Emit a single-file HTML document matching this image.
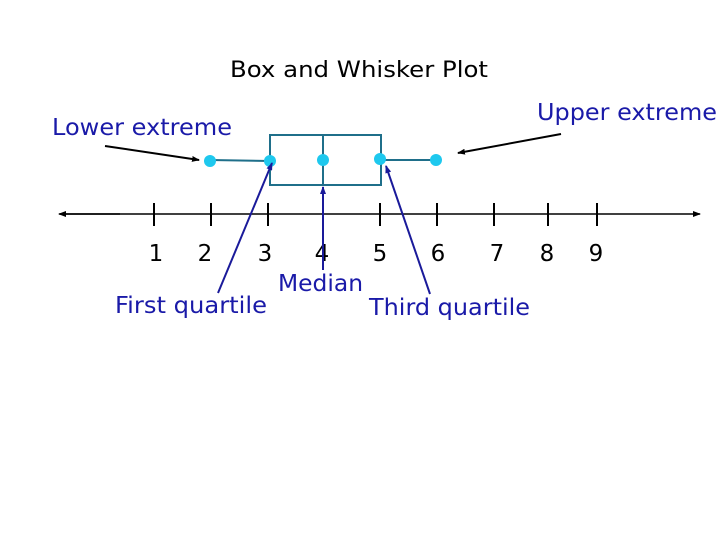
<!DOCTYPE html>
<html><head><meta charset="utf-8"><style>
html,body{margin:0;padding:0;background:#fff;}
svg{display:block;font-family:"DejaVu Sans","Liberation Sans",sans-serif;}
</style></head><body>
<svg width="728" height="546" viewBox="0 0 728 546" xmlns="http://www.w3.org/2000/svg">
<defs>
<marker id="ak" markerWidth="8" markerHeight="6" refX="7" refY="3" orient="auto" markerUnits="userSpaceOnUse"><path d="M0,0 L8,3 L0,6 z" fill="#000"/></marker>
<marker id="ab" markerWidth="8" markerHeight="6" refX="7" refY="3" orient="auto" markerUnits="userSpaceOnUse"><path d="M0,0 L8,3 L0,6 z" fill="#1a1a9a"/></marker>
</defs>
<text x="359" y="77" font-size="22" text-anchor="middle" textLength="258" lengthAdjust="spacingAndGlyphs" fill="#000">Box and Whisker Plot</text>
<line x1="60" y1="214" x2="700" y2="214" stroke="#000" stroke-width="1.5" marker-end="url(#ak)"/>
<line x1="120" y1="214" x2="59" y2="214" stroke="#000" stroke-width="1.5" marker-end="url(#ak)"/>
<g stroke="#000" stroke-width="2">
<line x1="154" y1="203" x2="154" y2="226"/><line x1="211" y1="203" x2="211" y2="226"/>
<line x1="268" y1="203" x2="268" y2="226"/><line x1="323" y1="203" x2="323" y2="226"/>
<line x1="380" y1="203" x2="380" y2="226"/><line x1="437" y1="203" x2="437" y2="226"/>
<line x1="494" y1="203" x2="494" y2="226"/><line x1="548" y1="203" x2="548" y2="226"/>
<line x1="597" y1="203" x2="597" y2="226"/>
</g>
<g font-size="23" text-anchor="middle" fill="#000">
<text x="156" y="261">1</text><text x="205" y="261">2</text><text x="265" y="261">3</text>
<text x="322" y="261">4</text><text x="380" y="261">5</text><text x="438" y="261">6</text>
<text x="497" y="261">7</text><text x="547" y="261">8</text><text x="596" y="261">9</text>
</g>
<rect x="270" y="135" width="111" height="50" fill="none" stroke="#1f6f8a" stroke-width="2"/>
<line x1="323" y1="135" x2="323" y2="185" stroke="#1f6f8a" stroke-width="2"/>
<line x1="210" y1="160" x2="270" y2="161" stroke="#1f6f8a" stroke-width="2"/>
<line x1="381" y1="160" x2="436" y2="160" stroke="#1f6f8a" stroke-width="2"/>
<g fill="#1ec8ee">
<circle cx="210" cy="161" r="6"/><circle cx="270" cy="161" r="6"/><circle cx="323" cy="160" r="6"/>
<circle cx="380" cy="159" r="6"/><circle cx="436" cy="160" r="6"/>
</g>
<line x1="105" y1="146" x2="199" y2="160" stroke="#000" stroke-width="2" marker-end="url(#ak)"/>
<line x1="561" y1="134" x2="458" y2="153" stroke="#000" stroke-width="2" marker-end="url(#ak)"/>
<line x1="218" y1="293" x2="272" y2="163" stroke="#1a1a9a" stroke-width="2" marker-end="url(#ab)"/>
<line x1="323" y1="270" x2="323" y2="187" stroke="#1a1a9a" stroke-width="2" marker-end="url(#ab)"/>
<line x1="430" y1="294" x2="386" y2="166" stroke="#1a1a9a" stroke-width="2" marker-end="url(#ab)"/>
<g font-size="23" fill="#1a1aa8">
<text x="52" y="135" textLength="180" lengthAdjust="spacingAndGlyphs">Lower extreme</text>
<text x="537" y="120" textLength="180" lengthAdjust="spacingAndGlyphs">Upper extreme</text>
<text x="278" y="291" textLength="85" lengthAdjust="spacingAndGlyphs">Median</text>
<text x="115" y="313" textLength="152" lengthAdjust="spacingAndGlyphs">First quartile</text>
<text x="369" y="315" textLength="161" lengthAdjust="spacingAndGlyphs">Third quartile</text>
</g>
</svg>
</body></html>
